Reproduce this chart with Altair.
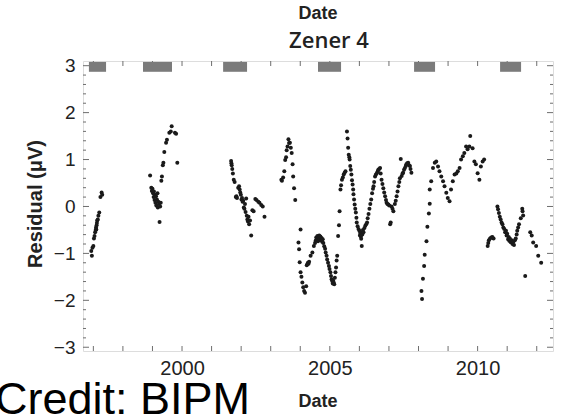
import altair as alt
import pandas as pd

# ---- measurement residuals (year, residual in microvolt) ----
seg_a_years = [1996.93, 1996.95, 1996.97, 1997.00, 1997.02, 1997.04, 1997.06, 1997.08, 1997.09, 1997.10,
               1997.11, 1997.12, 1997.13, 1997.15, 1997.17, 1997.20, 1997.24, 1997.28, 1997.30]
seg_a_vals = [-0.95, -1.05, -0.88, -0.84, -0.68, -0.63, -0.55, -0.50, -0.45, -0.49,
              -0.40, -0.35, -0.30, -0.28, -0.20, -0.13, 0.20, 0.30, 0.25]

seg_b_years = [1998.92, 1998.96, 1998.98, 1999.00, 1999.02, 1999.04, 1999.05, 1999.07, 1999.08, 1999.10,
               1999.12, 1999.13, 1999.15, 1999.17, 1999.18, 1999.20, 1999.22, 1999.24, 1999.26, 1999.28,
               1999.30, 1999.32, 1999.35, 1999.37, 1999.40, 1999.46, 1999.49, 1999.57, 1999.62, 1999.65,
               1999.76, 1999.80, 1999.84]
seg_b_vals = [0.66, 0.40, 0.33, 0.38, 0.28, 0.20, 0.32, 0.14, 0.25, 0.08,
              0.22, 0.02, 0.15, 0.28, -0.02, 0.10, 0.05, -0.33, 0.00, 0.08,
              0.55, 0.64, 0.88, 0.93, 1.16, 1.36, 1.42, 1.57, 1.60, 1.71,
              1.57, 1.55, 0.93]

seg_c_years = [2001.66, 2001.67, 2001.68, 2001.70, 2001.72, 2001.75, 2001.78, 2001.82, 2001.84, 2001.86,
               2001.90, 2001.93, 2001.95, 2001.97, 2001.99, 2002.01, 2002.03, 2002.05, 2002.07, 2002.09,
               2002.11, 2002.13, 2002.15, 2002.17, 2002.19, 2002.21, 2002.23, 2002.25, 2002.27, 2002.30,
               2002.34, 2002.38, 2002.42, 2002.48, 2002.52, 2002.58, 2002.62, 2002.68, 2002.73, 2002.79]
seg_c_vals = [0.97, 0.92, 0.88, 0.80, 0.70, 0.57, 0.52, 0.20, 0.22, 0.18,
              0.40, 0.43, 0.36, 0.30, 0.25, 0.15, 0.18, 0.10, 0.12, -0.02,
              -0.05, 0.05, -0.12, 0.17, -0.20, -0.28, -0.32, -0.22, -0.38, -0.30,
              -0.62, -0.08, -0.10, 0.16, 0.14, 0.10, 0.08, 0.03, 0.00, -0.22]

seg_d1_years = [2003.36, 2003.38, 2003.42, 2003.46, 2003.49, 2003.52, 2003.54, 2003.57, 2003.60, 2003.62,
                2003.65, 2003.68, 2003.71, 2003.74, 2003.76, 2003.79, 2003.83, 2003.94, 2003.96, 2003.98,
                2004.01, 2004.01, 2004.04, 2004.07, 2004.10, 2004.13, 2004.16]
seg_d1_vals = [0.57, 0.55, 0.62, 0.75, 0.99, 1.05, 1.20, 1.28, 1.43, 1.35,
               1.36, 1.25, 1.14, 0.90, 0.64, 0.39, 0.14, -0.77, -0.91, -1.19,
               -0.49, -1.40, -1.50, -1.62, -1.72, -1.80, -1.84]

seg_d2_years = [2004.20, 2004.22, 2004.24, 2004.26, 2004.28, 2004.30, 2004.35, 2004.41, 2004.46, 2004.50,
                2004.52, 2004.54, 2004.56, 2004.58, 2004.60, 2004.62, 2004.64, 2004.66, 2004.68, 2004.70,
                2004.72, 2004.74, 2004.76, 2004.78, 2004.81, 2004.84, 2004.86, 2004.89, 2004.91, 2004.94,
                2004.97, 2004.99, 2005.02, 2005.04, 2005.06, 2005.08, 2005.10, 2005.11, 2005.13, 2005.15,
                2005.17, 2005.19, 2005.21, 2005.23, 2005.25, 2005.28, 2005.31, 2005.33]
seg_d2_vals = [-1.70, -1.25, -1.23, -1.20, -1.22, -1.18, -1.05, -0.98, -0.84, -0.78,
               -0.73, -0.66, -0.70, -0.63, -0.74, -0.66, -0.62, -0.70, -0.64, -0.72,
               -0.67, -0.75, -0.70, -0.78, -0.85, -0.90, -0.98, -1.05, -1.13, -1.20,
               -1.27, -1.33, -1.40, -1.48, -1.55, -1.59, -1.64, -1.58, -1.62, -1.66,
               -1.52, -1.40, -1.30, -1.15, -1.05, -0.63, -0.40, -0.10]

seg_d3_years = [2005.36, 2005.38, 2005.41, 2005.44, 2005.47, 2005.50, 2005.53, 2005.58, 2005.60, 2005.62,
                2005.64, 2005.66, 2005.67, 2005.69, 2005.71, 2005.73, 2005.75, 2005.77, 2005.79, 2005.80,
                2005.82, 2005.84, 2005.86, 2005.88, 2005.90, 2005.91, 2005.94, 2005.97, 2006.00, 2006.02,
                2006.03, 2006.04, 2006.05, 2006.06, 2006.08, 2006.10, 2006.12]
seg_d3_vals = [0.36, 0.45, 0.57, 0.62, 0.68, 0.72, 0.75, 1.60, 1.45, 1.25,
               1.10, 1.05, 1.00, 0.86, 0.78, 0.68, 0.56, 0.47, 0.36, 0.26,
               0.15, 0.04, -0.05, -0.13, -0.24, -0.34, -0.42, -0.48, -0.52, -0.62,
               -0.58, -0.55, -0.64, -0.69, -0.84, -0.60, -0.50]

seg_d4_years = [2006.14, 2006.17, 2006.20, 2006.23, 2006.26, 2006.28, 2006.31, 2006.34, 2006.37, 2006.40,
                2006.43, 2006.46, 2006.48, 2006.50, 2006.53, 2006.56, 2006.59, 2006.62, 2006.64, 2006.67,
                2006.70, 2006.72, 2006.75, 2006.78, 2006.81, 2006.84, 2006.87, 2006.90, 2006.92, 2006.95,
                2006.98, 2007.01, 2007.04, 2007.06, 2007.09, 2007.12, 2007.15, 2007.20, 2007.23, 2007.26,
                2007.29, 2007.32, 2007.35, 2007.37, 2007.40, 2007.43, 2007.46, 2007.48, 2007.51, 2007.54,
                2007.57, 2007.59, 2007.62, 2007.65, 2007.68, 2007.71, 2007.73, 2007.76]
seg_d4_vals = [-0.55, -0.46, -0.41, -0.38, -0.34, -0.25, -0.16, -0.05, 0.05, 0.15,
               0.28, 0.38, 0.43, 0.52, 0.64, 0.68, 0.71, 0.75, 0.78, 0.80,
               0.82, 0.70, 0.57, 0.48, 0.39, 0.30, 0.22, 0.14, 0.08, 0.05,
               0.04, 0.02, -0.38, -0.34, 0.00, -0.05, -0.10, 0.05, 0.12, 0.22,
               0.32, 0.43, 0.52, 0.60, 1.01, 0.65, 0.70, 0.72, 0.78, 0.82,
               0.86, 0.90, 0.92, 0.93, 0.88, 0.86, 0.80, 0.72]

seg_e_years = [2008.10, 2008.12, 2008.15, 2008.19, 2008.21, 2008.27, 2008.30, 2008.35, 2008.38, 2008.38,
               2008.43, 2008.49, 2008.55, 2008.60, 2008.66, 2008.71, 2008.77, 2008.83, 2008.88, 2008.94,
               2008.99, 2009.05, 2009.10, 2009.16, 2009.22, 2009.28, 2009.33, 2009.39, 2009.44, 2009.50,
               2009.55, 2009.61, 2009.66, 2009.72, 2009.75, 2009.83, 2009.89, 2009.94, 2010.00, 2010.06,
               2010.11, 2010.17, 2010.22]
seg_e_vals = [-1.80, -1.97, -1.54, -1.27, -1.03, -0.74, -0.43, -0.15, 0.06, 0.36,
              0.54, 0.82, 0.93, 0.96, 0.85, 0.75, 0.64, 0.54, 0.43, 0.29,
              0.18, 0.11, 0.36, 0.54, 0.68, 0.70, 0.75, 0.82, 1.00, 1.07,
              1.14, 1.28, 1.22, 1.28, 1.50, 1.24, 0.96, 0.90, 0.71, 0.57,
              0.85, 0.96, 1.00]

seg_f_years = [2010.34, 2010.36, 2010.38, 2010.42, 2010.46, 2010.50, 2010.54]
seg_f_vals = [-0.84, -0.78, -0.72, -0.68, -0.66, -0.65, -0.68]

seg_g_years = [2010.67, 2010.69, 2010.72, 2010.75, 2010.78, 2010.81, 2010.84, 2010.87, 2010.90, 2010.93,
               2010.96, 2010.98, 2011.00, 2011.03, 2011.05, 2011.07, 2011.09, 2011.12, 2011.15, 2011.18,
               2011.21, 2011.23, 2011.26, 2011.29, 2011.32, 2011.34, 2011.37, 2011.40, 2011.46, 2011.51,
               2011.52, 2011.54, 2011.61, 2011.78, 2011.83, 2011.88, 2011.98, 2012.05, 2012.15]
seg_g_vals = [0.00, -0.06, -0.14, -0.22, -0.28, -0.34, -0.38, -0.45, -0.48, -0.55,
              -0.52, -0.62, -0.58, -0.70, -0.65, -0.73, -0.68, -0.76, -0.72, -0.80,
              -0.75, -0.82, -0.72, -0.68, -0.60, -0.52, -0.45, -0.38, -0.25, -0.05,
              -0.10, -0.19, -1.48, -0.55, -0.62, -0.77, -0.84, -1.05, -1.20]

# ---- gray bars along the top (measurement periods) ----
bar_start = [1996.85, 1998.68, 2001.39, 2004.60, 2007.85, 2010.76]
bar_end = [1997.43, 1999.66, 2002.20, 2005.38, 2008.56, 2011.47]
bar_low = 2.87
bar_high = 3.08

# ---- axes ----
x_label_years = [2000, 2005, 2010]
x_tick_years = list(range(1997, 2013))
y_major_ticks = [-3, -2, -1, 0, 1, 2, 3]
y_minor_ticks = [round(-3 + 0.2 * i, 1) for i in range(31) if i % 5]

X_DOMAIN = [1996.65, 2012.55]
Y_DOMAIN = [-3.08, 3.1]
W, H = 470, 290
FRAME = "#6e6e6e"
FONT = "Liberation Sans"

years = (seg_a_years + seg_b_years + seg_c_years + seg_d1_years + seg_d2_years + seg_d3_years
         + seg_d4_years + seg_e_years + seg_f_years + seg_g_years)
vals = (seg_a_vals + seg_b_vals + seg_c_vals + seg_d1_vals + seg_d2_vals + seg_d3_vals
        + seg_d4_vals + seg_e_vals + seg_f_vals + seg_g_vals)
pts = pd.DataFrame({"year": years, "res": vals})
bars = pd.DataFrame({"s": bar_start, "e": bar_end, "lo": [bar_low] * 6, "hi": [bar_high] * 6})
xt = pd.DataFrame({"year": x_tick_years})
ymaj = pd.DataFrame({"v": y_major_ticks})
ymin = pd.DataFrame({"v": y_minor_ticks})

xs = alt.Scale(domain=X_DOMAIN, nice=False, zero=False)
ys = alt.Scale(domain=Y_DOMAIN, nice=False, zero=False)

points = alt.Chart(pts).mark_circle(size=16, color="#1a1a1a", opacity=1).encode(
    x=alt.X("year:Q", scale=xs, title=None,
            axis=alt.Axis(values=x_label_years, format="d", ticks=False, domain=False, grid=False,
                          labelFontSize=20, labelFont=FONT, labelColor="#222", labelPadding=7)),
    y=alt.Y("res:Q", scale=ys, title=None,
            axis=alt.Axis(values=y_major_ticks, format="d", ticks=False, domain=False, grid=False,
                          labelFontSize=19, labelFont=FONT, labelColor="#222", labelPadding=8)),
)

ticks_bottom = alt.Chart(xt).mark_rule(color=FRAME, strokeWidth=1).encode(
    x=alt.X("year:Q", scale=xs), y=alt.value(H), y2=alt.value(H - 5))
ticks_top = alt.Chart(xt).mark_rule(color=FRAME, strokeWidth=1).encode(
    x=alt.X("year:Q", scale=xs), y=alt.value(0), y2=alt.value(5))
ticks_left_major = alt.Chart(ymaj).mark_rule(color=FRAME, strokeWidth=1).encode(
    y=alt.Y("v:Q", scale=ys), x=alt.value(0), x2=alt.value(6))
ticks_right_major = alt.Chart(ymaj).mark_rule(color=FRAME, strokeWidth=1).encode(
    y=alt.Y("v:Q", scale=ys), x=alt.value(W), x2=alt.value(W - 6))
ticks_left_minor = alt.Chart(ymin).mark_rule(color=FRAME, strokeWidth=1).encode(
    y=alt.Y("v:Q", scale=ys), x=alt.value(0), x2=alt.value(3))
ticks_right_minor = alt.Chart(ymin).mark_rule(color=FRAME, strokeWidth=1).encode(
    y=alt.Y("v:Q", scale=ys), x=alt.value(W), x2=alt.value(W - 3))

bar_layer = alt.Chart(bars).mark_rect(color="#7b7b7b").encode(
    x=alt.X("s:Q", scale=xs), x2="e:Q", y=alt.Y("lo:Q", scale=ys), y2="hi:Q")

one = pd.DataFrame({"k": [0]})
top_date = alt.Chart(one).mark_text(text="Date", font=FONT, fontSize=18, fontWeight="bold",
                                    color="#222", align="center", baseline="alphabetic").encode(
    x=alt.value(235), y=alt.value(-42))
title = alt.Chart(one).mark_text(text="Zener 4", font="Open Sans", fontSize=22, fontWeight=600,
                                 color="#222", align="center", baseline="alphabetic").encode(
    x=alt.value(246), y=alt.value(-13))
bottom_date = alt.Chart(one).mark_text(text="Date", font=FONT, fontSize=18, fontWeight="bold",
                                       color="#222", align="center", baseline="alphabetic").encode(
    x=alt.value(235), y=alt.value(346))
ylabel = alt.Chart(one).mark_text(text="Residual (μV)", font=FONT, fontSize=20, fontWeight="bold",
                                  color="#222", align="center", baseline="alphabetic", angle=270).encode(
    x=alt.value(-41), y=alt.value(143))
credit = alt.Chart(one).mark_text(text="Credit: BIPM", font=FONT, fontSize=45, color="#000",
                                  align="left", baseline="alphabetic").encode(
    x=alt.value(-88), y=alt.value(353))

chart = alt.layer(
    ticks_bottom, ticks_top, ticks_left_major, ticks_right_major, ticks_left_minor, ticks_right_minor,
    bar_layer, points, top_date, title, bottom_date, ylabel, credit
).properties(
    width=W, height=H,
    autosize=alt.AutoSizeParams(type="none"),
    padding={"left": 83, "top": 61, "right": 15, "bottom": 67},
).configure_view(
    stroke=FRAME, strokeWidth=1
).configure(background="white")

chart.save("out.html", embed_options={"renderer": "svg", "actions": False})
